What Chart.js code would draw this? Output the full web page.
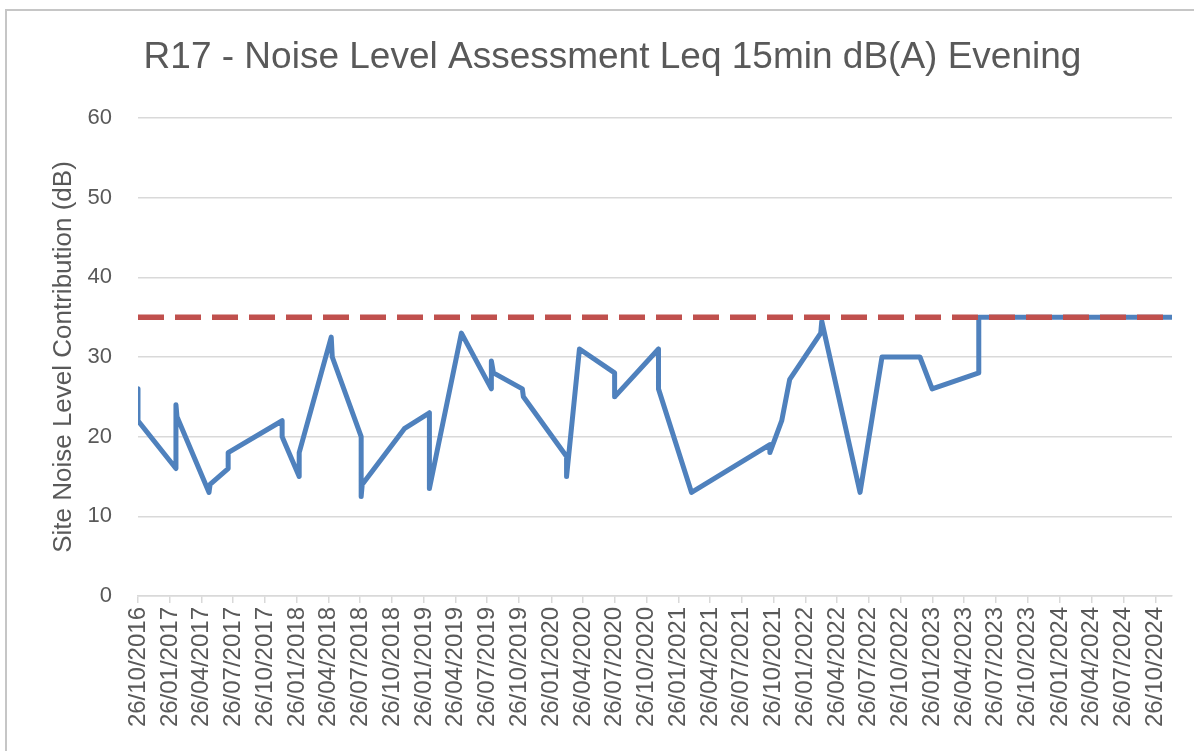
<!DOCTYPE html>
<html><head><meta charset="utf-8">
<script src="https://cdn.jsdelivr.net/npm/chart.js@4.4.0/dist/chart.umd.min.js"></script>
<style>
html,body{margin:0;padding:0;background:#fff;overflow:hidden;}
#wrap{position:relative;width:1194px;height:751px;}
#frame{position:absolute;left:5px;top:9px;width:1400px;height:1000px;border:2px solid #c6c6c6;box-sizing:border-box;}
canvas{position:absolute;left:0;top:0;}
</style></head><body>
<div id="wrap"><div id="frame"></div><canvas id="c" width="1194" height="751"></canvas></div>
<script>
const chartTitle = 'R17 - Noise Level Assessment Leq 15min dB(A) Evening';
const yAxisTitle = 'Site Noise Level Contribution (dB)';
const tickLabels = [
 '26/10/2016','26/01/2017','26/04/2017','26/07/2017','26/10/2017','26/01/2018','26/04/2018','26/07/2018',
 '26/10/2018','26/01/2019','26/04/2019','26/07/2019','26/10/2019','26/01/2020','26/04/2020','26/07/2020',
 '26/10/2020','26/01/2021','26/04/2021','26/07/2021','26/10/2021','26/01/2022','26/04/2022','26/07/2022',
 '26/10/2022','26/01/2023','26/04/2023','26/07/2023','26/10/2023','26/01/2024','26/04/2024','26/07/2024',
 '26/10/2024'];
const noiseDates = [
 '26/10/2016','26/10/2016','12/02/2017','12/02/2017','15/02/2017','18/05/2017','21/05/2017','12/07/2017',
 '12/07/2017','14/12/2017','14/12/2017','01/02/2018','01/02/2018','04/05/2018','07/05/2018','29/07/2018',
 '29/07/2018','01/08/2018','30/11/2018','10/02/2019','10/02/2019','13/05/2019','07/08/2019','07/08/2019',
 '13/08/2019','04/11/2019','07/11/2019','10/03/2020','10/03/2020','16/04/2020','26/07/2020','26/07/2020',
 '29/11/2020','29/11/2020','04/03/2021','15/10/2021','15/10/2021','18/11/2021','11/12/2021','10/03/2022',
 '13/03/2022','01/07/2022','02/09/2022','20/12/2022','24/01/2023','07/06/2023','07/06/2023','13/12/2024'];
const noiseValues = [
 26,22,16,24,22.5,13,14,16,
 18,22,20,15,18,32.5,30,20,
 12.5,14,21,23,13.5,33,26,29.5,
 28,26,25,17.5,15,31,28,25,
 31,26,13,19,18,22,27.2,33,
 34.5,13,30,30,26,28,35,35];
const limitDates = ['26/10/2016','13/12/2024'];
const limitValues = [35,35];
const yMin = 0, yMax = 60, yStep = 10;

function toDay(s){const p=s.split('/').map(Number);return Date.UTC(p[2],p[1]-1,p[0])/86400000;}
const tickDays = tickLabels.map(toDay);
const noisePts = noiseDates.map((d,i)=>({x:toDay(d),y:noiseValues[i]}));
const limitPts = limitDates.map((d,i)=>({x:toDay(d),y:limitValues[i]}));
const xMin = toDay(limitDates[0]);
const xMax = toDay(limitDates[limitDates.length-1]);

const grey = '#595959';
const fam = '"Liberation Sans", Arial, sans-serif';

new Chart(document.getElementById('c'), {
  type: 'line',
  data: {
    datasets: [
      {label:'Limit', data: limitPts, borderColor:'#C0504D', borderWidth:5.5, borderDash:[26,11],
       borderCapStyle:'butt', pointRadius:0, tension:0, fill:false, order:0},
      {label:'R17', data: noisePts, borderColor:'#4F81BD', borderWidth:5, borderJoinStyle:'round',
       borderCapStyle:'round', pointRadius:0, tension:0, fill:false, order:1}
    ]
  },
  options: {
    responsive:false, animation:false, devicePixelRatio:1,
    layout:{padding:{left:40,right:9,top:0,bottom:0}},
    plugins:{
      legend:{display:false}, tooltip:{enabled:false},
      title:{display:true, text:chartTitle, color:grey, font:{family:fam,size:37,weight:'normal'},
             padding:{top:36,bottom:37.6}}
    },
    scales:{
      x:{type:'linear', min:xMin, max:xMax,
         afterBuildTicks:(s)=>{s.ticks = tickDays.map(v=>({value:v}));},
         afterFit:(s)=>{s.height = 155;},
         grid:{drawOnChartArea:false, drawTicks:true, tickLength:7, color:'#d9d9d9', lineWidth:1.5},
         border:{display:true, color:'#d9d9d9', width:1.5},
         ticks:{autoSkip:false, minRotation:90, maxRotation:90, padding:4, color:grey,
                font:{family:fam,size:24},
                callback:(v,i)=>tickLabels[i]}
      },
      y:{min:yMin, max:yMax,
         afterFit:(s)=>{s.width = 98;},
         grid:{color:'#d9d9d9', lineWidth:1.5, drawTicks:false},
         border:{display:false},
         ticks:{stepSize:yStep, padding:26, color:grey, font:{family:fam,size:22}},
         title:{display:true, text:yAxisTitle, color:grey, font:{family:fam,size:26},
                padding:{top:8,bottom:0}}
      },
      yr:{type:'linear', position:'right', display:true,
         afterFit:(s)=>{s.width = 13;},
         grid:{display:false, drawTicks:false}, border:{display:false},
         ticks:{display:false}}
    }
  }
});
</script>
</body></html>
